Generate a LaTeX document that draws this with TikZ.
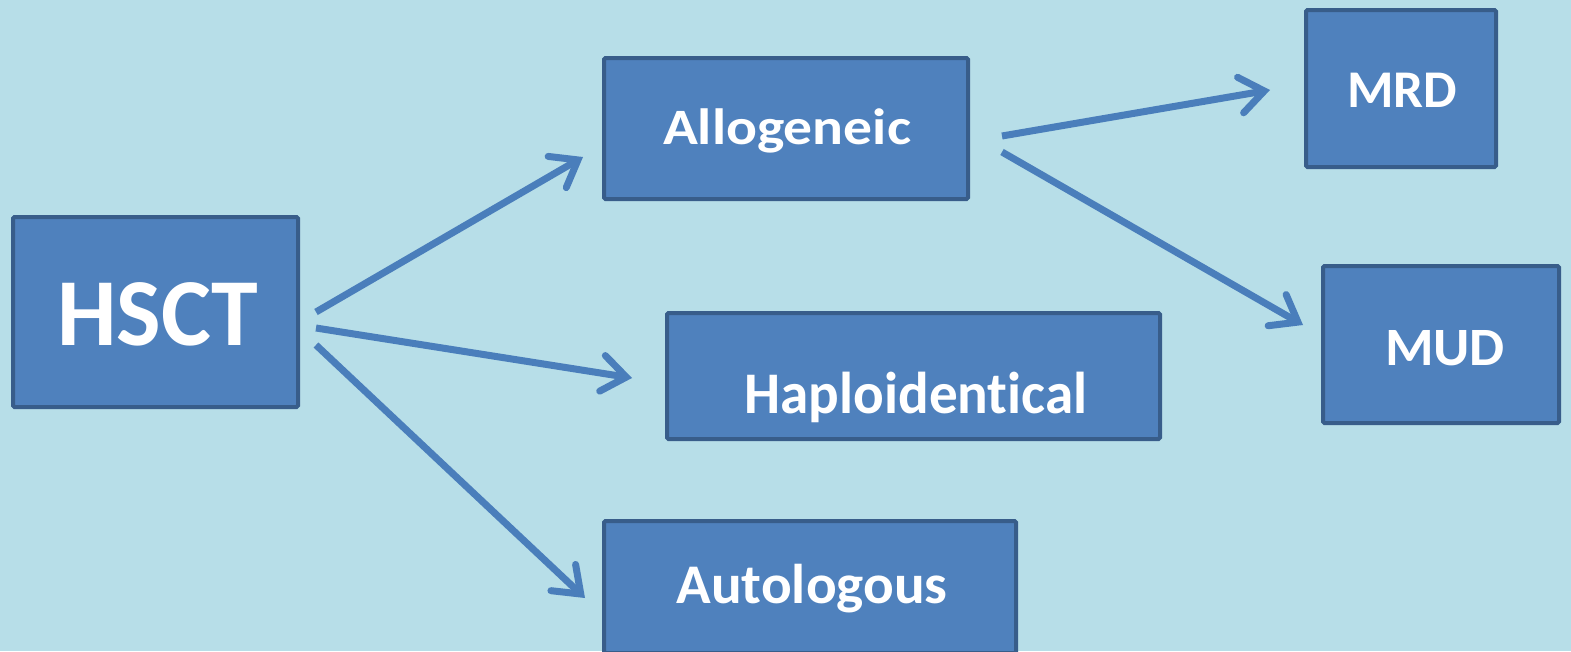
\documentclass[tikz,border=0pt]{standalone}
\usepackage{fontspec}
\setmainfont{Carlito}[Ligatures={NoCommon}]
\usetikzlibrary{arrows.meta}
\definecolor{bgc}{HTML}{B7DEE8}
\definecolor{boxfill}{HTML}{4F81BD}
\definecolor{boxline}{HTML}{385D8A}
\definecolor{arrowc}{HTML}{4A7EBB}
\tikzset{
  box/.style={draw=boxline, fill=boxfill, line width=4pt, rounded corners=1.5pt, inner sep=0pt},
  lbl/.style={text=white, anchor=base, inner sep=0pt, font=\bfseries},
  conn/.style={draw=arrowc, line width=7pt,
    -{Straight Barb[length=24pt,width=36pt,line cap=round,line join=miter]}}
}
\newcommand{\sizedtext}[3]{\resizebox{#1pt}{\height}{\fontsize{#2}{#2}\selectfont #3}}
\begin{document}
\begin{tikzpicture}[x=1pt,y=-1pt]
\fill[bgc] (0,0) rectangle (1571,651);
\useasboundingbox (0,0) rectangle (1571,651);
% boxes
\node[box, minimum width=285pt, minimum height=190pt] (hsct) at (155.5,312) {};
\node[box, minimum width=364pt, minimum height=141pt] (allo) at (786,128.5) {};
\node[box, minimum width=493pt, minimum height=126pt] (haplo) at (913.5,376) {};
\node[box, minimum width=412pt, minimum height=132pt] (auto) at (810,587) {};
\node[box, minimum width=190pt, minimum height=157pt] (mrd) at (1401,88.5) {};
\node[box, minimum width=236pt, minimum height=157pt] (mud) at (1441,344.5) {};
% labels
\node[lbl] (thsct) at (157.5,345) {\sizedtext{201}{96}{HSCT}};
\node[lbl] (tallo) at (787,144) {\sizedtext{248}{51}{Allogeneic}};
\node[lbl] (thaplo) at (916,413) {\sizedtext{343}{59}{Haploidentical}};
\node[lbl] (tauto) at (812,603) {\sizedtext{271}{56}{Autologous}};
\node[lbl] (tmrd) at (1402,107) {\sizedtext{110}{53}{MRD}};
\node[lbl] (tmud) at (1445,365) {\sizedtext{120}{54}{MUD}};
% connector ends
\coordinate (s1) at (316,312);
\coordinate (e1) at (583,157);
\coordinate (s2) at (316,328);
\coordinate (e2) at (632,378);
\coordinate (s3) at (316,345);
\coordinate (e3) at (585,598);
\coordinate (s4) at (1002,136);
\coordinate (e4) at (1270,90);
\coordinate (s5) at (1002,152);
\coordinate (e5) at (1303,325);
\draw[conn] (s1) -- (e1);
\draw[conn] (s2) -- (e2);
\draw[conn] (s3) -- (e3);
\draw[conn] (s4) -- (e4);
\draw[conn] (s5) -- (e5);
\end{tikzpicture}
\end{document}
